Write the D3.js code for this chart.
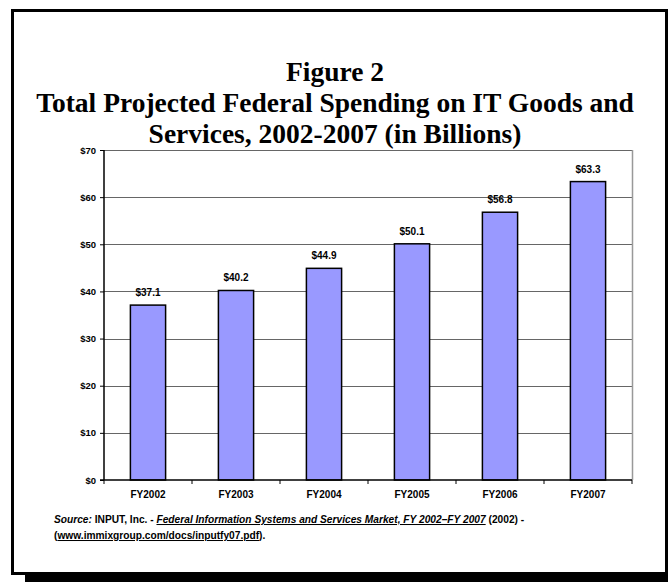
<!DOCTYPE html>
<html>
<head>
<meta charset="utf-8">
<script src="https://cdn.jsdelivr.net/npm/d3@7"></script>
<style>
body { margin: 0; background: #fff; }
svg { display: block; }
.title { font-family: "Liberation Serif", "Times New Roman", serif; font-weight: bold; font-size: 27.5px; text-anchor: middle; }
.tick_y { font-family: "Liberation Sans", Arial, sans-serif; font-weight: bold; font-size: 9.5px; text-anchor: end; }
.tick_x { font-family: "Liberation Sans", Arial, sans-serif; font-weight: bold; font-size: 10px; text-anchor: middle; }
.lbl { font-family: "Liberation Sans", Arial, sans-serif; font-weight: bold; font-size: 10px; text-anchor: middle; }
.src { font-family: "Liberation Sans", Arial, sans-serif; font-weight: bold; font-size: 10.2px; }
</style>
</head>
<body>
<svg id="chart" width="668" height="582"></svg>
<script>
// data
var years = ['FY2002', 'FY2003', 'FY2004', 'FY2005', 'FY2006', 'FY2007']
var spending = [37.1, 40.2, 44.9, 50.1, 56.8, 63.3]
var y_ticks = [0, 10, 20, 30, 40, 50, 60, 70]
var title_lines = ['Figure 2', 'Total Projected Federal Spending on IT Goods and', 'Services, 2002-2007 (in Billions)']

var svg = d3.select('#chart')
var W = 668, H = 582
var plot_l = 104, plot_r = 632, plot_t = 150, plot_b = 480

// frame with drop shadow
svg.append('rect').attr('x', 25).attr('y', 575).attr('width', W - 25).attr('height', 7).attr('fill', '#000')
svg.append('rect').attr('x', 12.5).attr('y', 10.5).attr('width', 654).attr('height', 563)
	.attr('fill', 'none').attr('stroke', '#000').attr('stroke-width', 3)

// title
svg.selectAll('text.title').data(title_lines).enter().append('text')
	.attr('class', 'title')
	.attr('x', W / 2 + 1)
	.attr('y', function(d, i){ return 81 + i * 31 })
	.text(function(d){ return d })

var x = d3.scaleBand().domain(years).range([plot_l, plot_r]).paddingInner(0.6).paddingOuter(0.3)
var y = d3.scaleLinear().domain([0, 70]).range([plot_b, plot_t])

// gridlines
svg.selectAll('line.grid').data(y_ticks.filter(function(d){ return d > 0 })).enter().append('line')
	.attr('class', 'grid')
	.attr('x1', plot_l).attr('x2', plot_r)
	.attr('y1', function(d){ return Math.round(y(d)) + 0.5 })
	.attr('y2', function(d){ return Math.round(y(d)) + 0.5 })
	.attr('stroke', '#666').attr('stroke-width', 1)
svg.append('line').attr('x1', plot_r + 0.5).attr('x2', plot_r + 0.5).attr('y1', plot_t).attr('y2', plot_b)
	.attr('stroke', '#999').attr('stroke-width', 1.5)

// bars
svg.selectAll('rect.bar').data(spending).enter().append('rect')
	.attr('class', 'bar')
	.attr('x', function(d, i){ return x(years[i]) })
	.attr('y', function(d){ return y(d) })
	.attr('width', x.bandwidth())
	.attr('height', function(d){ return plot_b - y(d) })
	.attr('fill', '#9999ff').attr('stroke', '#000').attr('stroke-width', 1.5)

// value labels
svg.selectAll('text.lbl').data(spending).enter().append('text')
	.attr('class', 'lbl')
	.attr('x', function(d, i){ return x(years[i]) + x.bandwidth() / 2 })
	.attr('y', function(d){ return y(d) - 9 })
	.text(function(d){ return '$' + d.toFixed(1) })

// y axis
var gy = svg.append('g').attr('transform', 'translate(' + plot_l + ',0)')
	.call(d3.axisLeft(y).tickValues(y_ticks).tickSize(4).tickPadding(4).tickFormat(function(d){ return '$' + d }))
gy.select('.domain').remove()
gy.selectAll('.tick line').attr('stroke', '#000')
gy.selectAll('.tick text').attr('class', 'tick_y').attr('font-family', null).attr('font-size', null).attr('fill', '#000')
svg.append('line').attr('x1', plot_l).attr('x2', plot_l).attr('y1', plot_t).attr('y2', plot_b)
	.attr('stroke', '#000').attr('stroke-width', 1.5)

// x axis
var bounds = d3.range(years.length + 1).map(function(i){ return plot_l + i * x.step() })
svg.selectAll('line.xtick').data(bounds).enter().append('line')
	.attr('class', 'xtick')
	.attr('x1', function(d){ return d }).attr('x2', function(d){ return d })
	.attr('y1', plot_b).attr('y2', plot_b + 4)
	.attr('stroke', '#000')
svg.append('line').attr('x1', plot_l - 4).attr('x2', plot_r).attr('y1', plot_b).attr('y2', plot_b)
	.attr('stroke', '#000').attr('stroke-width', 1.5)
svg.selectAll('text.tick_x').data(years).enter().append('text')
	.attr('class', 'tick_x')
	.attr('x', function(d){ return x(d) + x.bandwidth() / 2 })
	.attr('y', plot_b + 18)
	.text(function(d){ return d })

// source note
var s1 = svg.append('text').attr('class', 'src').attr('x', 54).attr('y', 523)
s1.append('tspan').attr('font-style', 'italic').text('Source:')
s1.append('tspan').text('  INPUT, Inc. - ')
s1.append('tspan').attr('font-style', 'italic').style('text-decoration', 'underline')
	.text('Federal Information Systems and Services Market, FY 2002\u2013FY 2007')
s1.append('tspan').text('  (2002) -')
var s2 = svg.append('text').attr('class', 'src').attr('x', 54).attr('y', 539)
s2.append('tspan').text('(')
s2.append('tspan').style('text-decoration', 'underline').text('www.immixgroup.com/docs/inputfy07.pdf')
s2.append('tspan').text(').')
</script>
</body>
</html>
